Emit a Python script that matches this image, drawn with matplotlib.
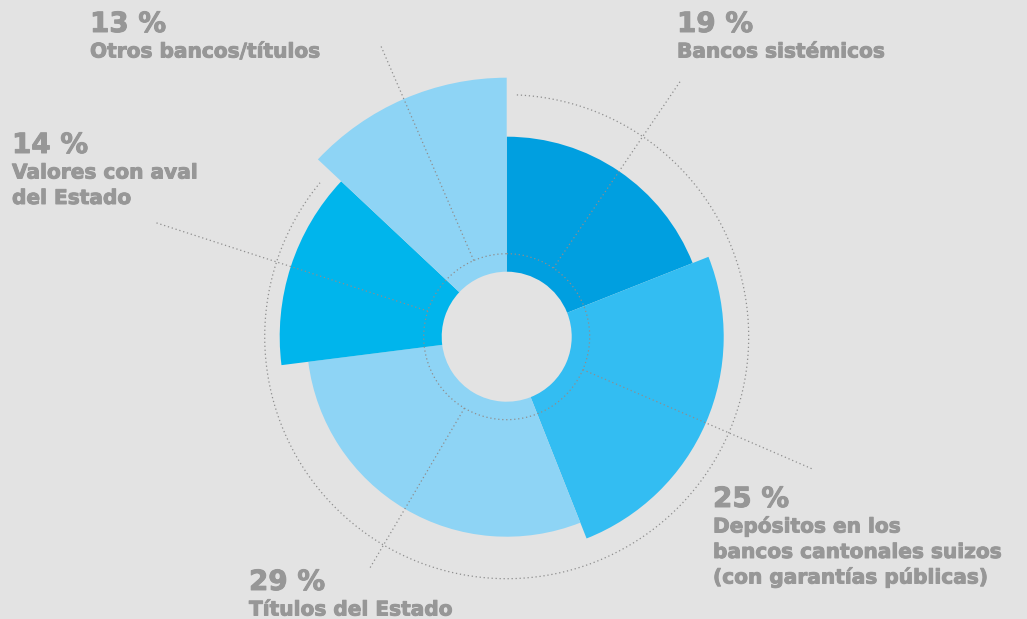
import numpy as np
import matplotlib
matplotlib.use("Agg")
import matplotlib.pyplot as plt
import matplotlib.patheffects as pe

# ---- data ----
categories = ["Bancos sistémicos",
              "Depósitos en los\nbancos cantonales suizos\n(con garantías públicas)",
              "Títulos del Estado",
              "Valores con aval\ndel Estado",
              "Otros bancos/títulos"]
shares = [19, 25, 29, 14, 13]
outer_radius = [200, 217, 200, 227, 259]
colors = ["#009FE0", "#33BDF2", "#8ED4F5", "#00B5EC", "#8ED4F5"]

# ---- layout ----
W, H = 1027, 619
CX, CY = 506.7, 336.7
RMAX = 270
HOLE = 65
INNER_RING = 83
OUTER_RING = 242
leader_len = [309, 333, 270, 371, 319]
label_pos = [(677, 32), (713, 507), (249, 590), (12, 153), (90, 32)]
BG = "#E3E3E3"
TXT = "#979797"
DOT = "#8E8E8E"
FONT = "DejaVu Sans"

fig = plt.figure(figsize=(W / 100, H / 100), dpi=100, facecolor=BG)
ax = fig.add_axes([(CX - RMAX) / W, (H - CY - RMAX) / H, 2 * RMAX / W, 2 * RMAX / H],
                  projection="polar")
ax.set_theta_zero_location("N")
ax.set_theta_direction(-1)
ax.set_ylim(0, RMAX)
ax.set_axis_off()

sh = np.array(shares, dtype=float)
starts = np.deg2rad((np.cumsum(sh) - sh) * 3.6)
widths = np.deg2rad(sh * 3.6)
ax.bar(starts, np.array(outer_radius) - HOLE, width=widths, bottom=HOLE,
       align="edge", color=colors, edgecolor="none", linewidth=0, zorder=2)

dots = (0, (1, 2.2))
t = np.linspace(0, 2 * np.pi, 500)
ax.plot(t, np.full_like(t, INNER_RING), ls=dots, color=DOT, lw=0.9, zorder=3)
t2 = np.deg2rad(np.linspace(2.4, 309.5, 500))
ax.plot(t2, np.full_like(t2, OUTER_RING), ls=dots, color=DOT, lw=0.9, zorder=1,
        clip_on=False)

mids = starts + widths / 2
for m, L in zip(mids, leader_len):
    ax.plot([m, m], [INNER_RING, L], ls=dots, color=DOT, lw=0.9, zorder=3,
            clip_on=False)

# ---- labels ----
tx = fig.add_axes([0, 0, 1, 1])
tx.set_xlim(0, W)
tx.set_ylim(H, 0)
tx.set_axis_off()
heavy = [pe.withStroke(linewidth=0.7, foreground=TXT)]
for (x, y), s, cat in zip(label_pos, shares, categories):
    tx.text(x, y, f"{s} %", fontsize=20, fontweight="bold", family=FONT,
            color=TXT, va="baseline", ha="left", path_effects=heavy)
    for k, line in enumerate(cat.split("\n")):
        tx.text(x, y + 25.5 * (k + 1), line, fontsize=14.5, fontweight="bold",
                family=FONT, color=TXT, va="baseline", ha="left",
                path_effects=heavy)

fig.savefig("out.png", dpi=100, facecolor=BG)
